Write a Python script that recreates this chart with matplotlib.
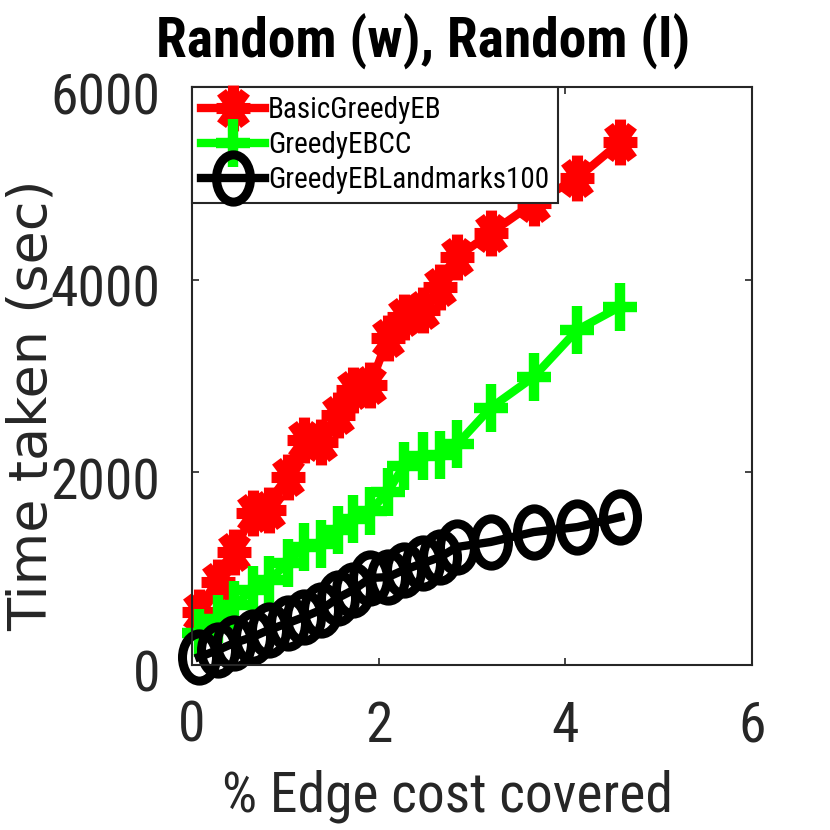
import numpy as np
import matplotlib
matplotlib.use("Agg")
import matplotlib.pyplot as plt
from matplotlib.path import Path
from matplotlib.transforms import Affine2D, ScaledTranslation
from matplotlib import font_manager

# ---- data ----
edge_cost = [0.075, 0.28, 0.45, 0.65, 0.82, 1.03, 1.20, 1.38, 1.56, 1.73,
             1.91, 2.10, 2.27, 2.48, 2.66, 2.84, 3.20, 3.66, 4.13, 4.59]
basic_greedy = [550, 862, 1173, 1578, 1609, 1951, 2335, 2315, 2595, 2855,
                2907, 3395, 3612, 3685, 3924, 4235, 4484, 4796, 5055, 5429]
greedy_cc = [330, 480, 620, 780, 880, 1060, 1230, 1260, 1400, 1520,
             1600, 1800, 2070, 2170, 2180, 2290, 2670, 2990, 3480, 3720]
greedy_lm = [83, 156, 228, 291, 363, 436, 498, 571, 695, 779,
             903, 913, 986, 1059, 1121, 1225, 1277, 1380, 1432, 1536]
series_labels = ["BasicGreedyEB", "GreedyEBCC", "GreedyEBLandmarks100"]
xticks = [0, 2, 4, 6]
yticks = [0, 2000, 4000, 6000]
title = "Random (w), Random (l)"
xlabel = "% Edge cost covered"
ylabel = "Time taken (sec)"

# ---- fonts: prefer a condensed face if one is installed ----
names = {f.name for f in font_manager.fontManager.ttflist}
candidates = ["Liberation Sans Narrow", "Roboto Condensed", "DejaVu Sans Condensed",
              "Open Sans Condensed", "Noto Sans Condensed"]
found = [c for c in candidates if c in names]
condensed = bool(found)
narrow = found[:1] + ["Liberation Sans", "DejaVu Sans"]
plt.rcParams["font.family"] = narrow
k = 1.0 if condensed else 0.80   # shrink if only regular width is available

# ---- horizontally squeezed markers ----
sq = 0.74
ast_codes, ast_verts = [], []
for i in range(8):
    a = np.pi * i / 4
    ast_verts += [(0, 0), (sq * np.cos(a), np.sin(a))]
    ast_codes += [Path.MOVETO, Path.LINETO]
asterisk = Path(ast_verts, ast_codes)
plus = Path([(-sq, 0), (sq, 0), (0, -1), (0, 1)],
            [Path.MOVETO, Path.LINETO, Path.MOVETO, Path.LINETO])
ellipse = Affine2D().scale(0.72, 1.0).transform_path(Path.unit_circle())

fig = plt.figure(figsize=(8.3, 8.3), dpi=100)
ax = fig.add_axes([192 / 830, 1 - 665 / 830, 560 / 830, 578 / 830])

lw = 6
ax.plot(edge_cost, basic_greedy, color="#FF0000", lw=lw, marker=asterisk,
        ms=33, mew=8, mfc="none", label=series_labels[0], clip_on=False)
ax.plot(edge_cost, greedy_cc, color="#00FF00", lw=lw, marker=plus,
        ms=34, mew=7.5, mfc="none", label=series_labels[1], clip_on=False)
ax.plot(edge_cost, greedy_lm, color="#000000", lw=lw, marker=ellipse,
        ms=34, mew=6.5, mfc="none", label=series_labels[2], clip_on=False)

ax.set_xlim(0, 6)
ax.set_ylim(0, 6000)
ax.set_xticks(xticks)
ax.set_yticks(yticks)
ax.set_xticklabels([str(t) for t in xticks])
ax.set_yticklabels([str(t) for t in yticks])

dark = "#262626"
for s in ax.spines.values():
    s.set_color(dark)
    s.set_linewidth(1.5)
ax.tick_params(direction="in", length=5, width=1.2, color=dark,
               labelcolor=dark, labelsize=40 * k, top=True, right=True)
ax.tick_params(axis="x", pad=25)
ax.tick_params(axis="y", pad=23)
off = ScaledTranslation(0, -6 / 100, fig.dpi_scale_trans)
for lab in ax.get_yticklabels():
    lab.set_transform(lab.get_transform() + off)

ax.set_title(title, fontsize=40 * k, fontweight="bold", color="black",
             x=0.4125, y=1.05, pad=0)
ax.set_xlabel(xlabel, fontsize=40 * k, color=dark)
ax.xaxis.set_label_coords(0.457, -0.18)
ax.set_ylabel(ylabel, fontsize=39, color=dark, family=["DejaVu Sans"])
ax.yaxis.set_label_coords(-0.24, 0.45)

leg = ax.legend(loc="upper left", fontsize=21 * (1.0 if condensed else 0.85),
                borderaxespad=0, handlelength=2.2, handletextpad=0.1,
                labelspacing=0.25, borderpad=0.3, fancybox=False,
                framealpha=1, edgecolor=dark)
leg.get_frame().set_linewidth(1.5)
leg.set_zorder(5)

fig.savefig("out.png", dpi=100)
